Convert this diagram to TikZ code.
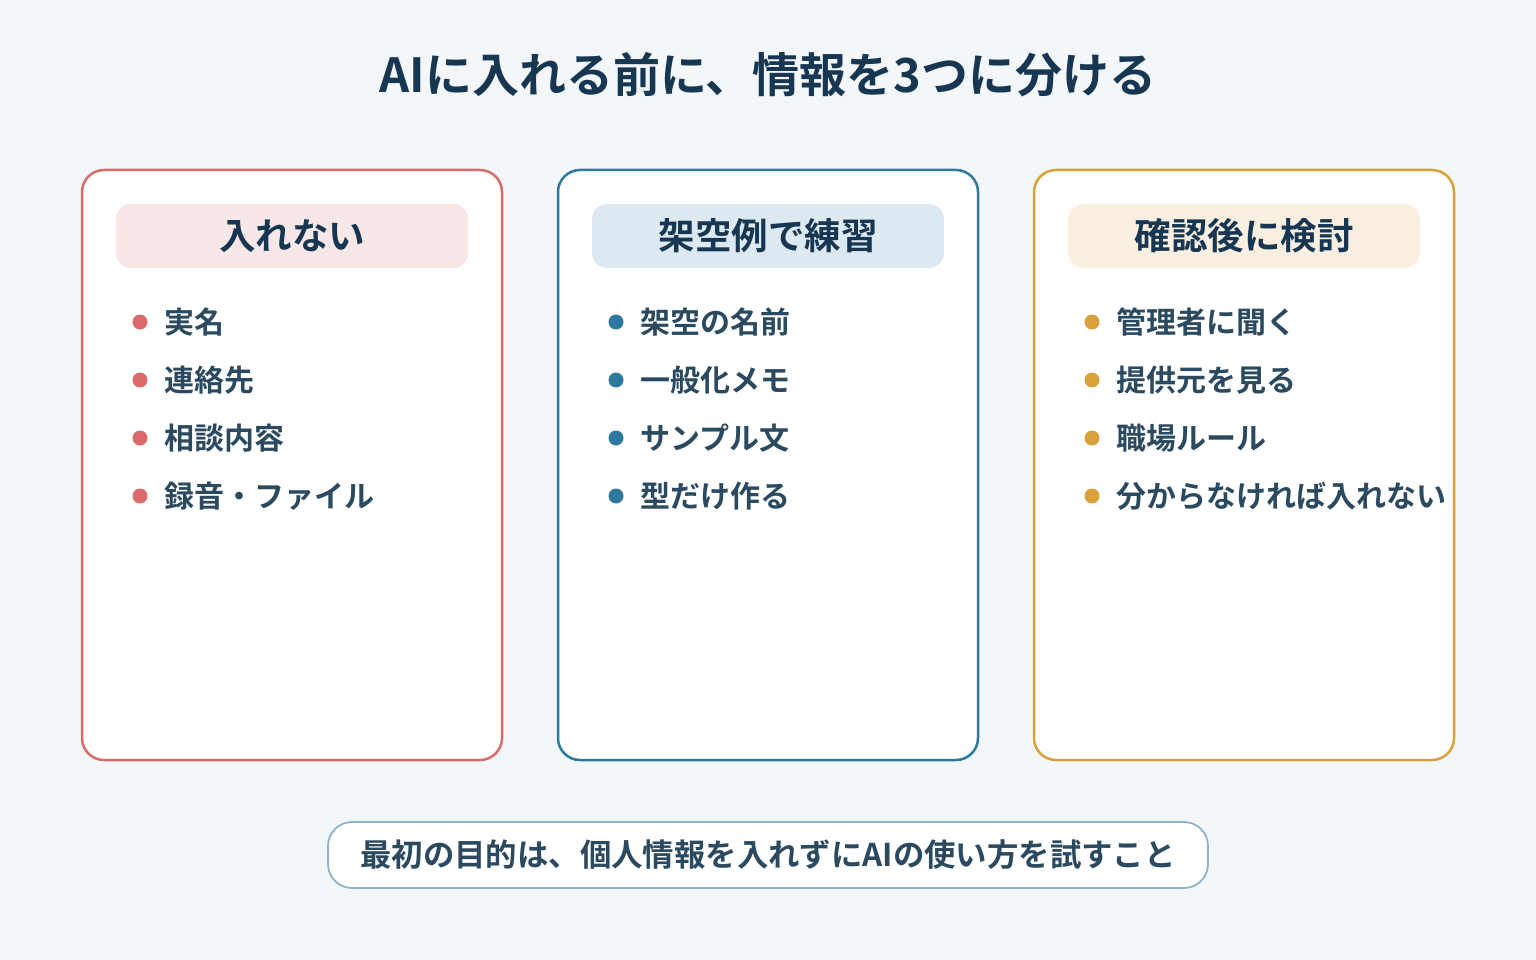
\documentclass[tikz,border=0pt]{standalone}
\usepackage{fontspec}
\usepackage{tikz}
\newfontfamily\jpfont{Noto Sans CJK JP Bold}

\definecolor{bgcol}{HTML}{F3F7FA}
\definecolor{navy}{HTML}{173651}
\definecolor{inkcol}{HTML}{2B4A60}
\definecolor{redcol}{HTML}{DB6B6B}
\definecolor{bluecol}{HTML}{2E7A9E}
\definecolor{goldcol}{HTML}{D9A03C}
\definecolor{redpale}{HTML}{F7E7E7}
\definecolor{bluepale}{HTML}{DDE9F1}
\definecolor{goldpale}{HTML}{F9EFE0}
\definecolor{notecol}{HTML}{8FB4C9}

\tikzset{
  card/.style={line width=2.5pt, fill=white, rounded corners=22pt},
  headbox/.style={rounded corners=15pt, inner sep=0pt, minimum width=352pt, minimum height=64pt,
    text=navy, font=\jpfont\fontsize{36.5}{40}\selectfont},
  item/.style={anchor=west, inner sep=0pt, text=inkcol, font=\jpfont\fontsize{30}{33}\selectfont},
  dot/.style={circle, inner sep=0pt, minimum size=15pt},
}

\begin{document}
\begin{tikzpicture}[x=1pt, y=-1pt]
					
					\fill[bgcol] (0,0) rectangle (1536,960);
					\useasboundingbox (0,0) rectangle (1536,960);
					
					\node[text=navy, font=\jpfont\fontsize{47}{52}\selectfont] (title) at (768, 75) {AIに入れる前に、情報を3つに分ける};
					
					% left card
					\draw[card, draw=redcol] (82,170) rectangle (502,760);
					\node[headbox, fill=redpale] (headA) at (292, 236) {入れない};
					\node[dot, fill=redcol] (dA1) at (140, 322) {};
					\node[item] (iA1) at (164, 322) {実名};
					\node[dot, fill=redcol] (dA2) at (140, 380) {};
					\node[item] (iA2) at (164, 380) {連絡先};
					\node[dot, fill=redcol] (dA3) at (140, 438) {};
					\node[item] (iA3) at (164, 438) {相談内容};
					\node[dot, fill=redcol] (dA4) at (140, 496) {};
					\node[item] (iA4) at (164, 496) {録音・ファイル};
					
					% middle card
					\draw[card, draw=bluecol] (558,170) rectangle (978,760);
					\node[headbox, fill=bluepale] (headB) at (768, 236) {架空例で練習};
					\node[dot, fill=bluecol] (dB1) at (616, 322) {};
					\node[item] (iB1) at (640, 322) {架空の名前};
					\node[dot, fill=bluecol] (dB2) at (616, 380) {};
					\node[item] (iB2) at (640, 380) {一般化メモ};
					\node[dot, fill=bluecol] (dB3) at (616, 438) {};
					\node[item] (iB3) at (640, 438) {サンプル文};
					\node[dot, fill=bluecol] (dB4) at (616, 496) {};
					\node[item] (iB4) at (640, 496) {型だけ作る};
					
					% right card
					\draw[card, draw=goldcol] (1034,170) rectangle (1454,760);
					\node[headbox, fill=goldpale] (headC) at (1244, 236) {確認後に検討};
					\node[dot, fill=goldcol] (dC1) at (1092, 322) {};
					\node[item] (iC1) at (1116, 322) {管理者に聞く};
					\node[dot, fill=goldcol] (dC2) at (1092, 380) {};
					\node[item] (iC2) at (1116, 380) {提供元を見る};
					\node[dot, fill=goldcol] (dC3) at (1092, 438) {};
					\node[item] (iC3) at (1116, 438) {職場ルール};
					\node[dot, fill=goldcol] (dC4) at (1092, 496) {};
					\node[item] (iC4) at (1116, 496) {分からなければ入れない};
					
					% note at the bottom
					\node[draw=notecol, line width=1.8pt, fill=white, rounded corners=24pt,
					  minimum width=880pt, minimum height=66pt, inner sep=0pt,
					  text=inkcol, font=\jpfont\fontsize{31.4}{34}\selectfont] (note) at (768, 855)
					  {最初の目的は、個人情報を入れずにAIの使い方を試すこと};
				\end{tikzpicture}
\end{document}
